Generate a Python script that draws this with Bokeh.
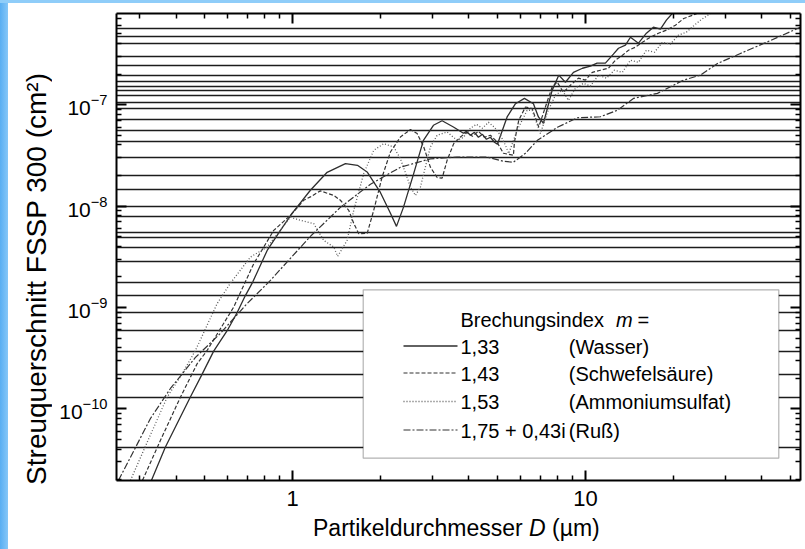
from bokeh.plotting import figure
from bokeh.models import (Range1d, FixedTicker, LogAxis, BoxAnnotation, Label, Arrow,
                          BasicTickFormatter, Div)
from bokeh.layouts import row, column
from bokeh.embed import file_html
from bokeh.resources import INLINE

FONT = "Liberation Sans"

# ---------------- data ----------------
# particle diameter D (µm) and FSSP-300 scattering cross section (cm^2)
d_wasser = [0.329, 0.367, 0.447, 0.490, 0.537, 0.597, 0.646, 0.689, 0.730, 0.818, 0.908,
            0.995, 1.149, 1.311, 1.514, 1.664, 1.800, 1.993, 2.157, 2.262, 2.389, 2.585,
            2.796, 3.025, 3.239, 3.540, 3.830, 3.922, 4.046, 4.176, 4.310, 4.448, 4.590,
            4.737, 4.889, 5.005, 5.401, 5.768, 6.188, 6.643, 6.910, 7.188, 7.695, 8.107,
            8.545, 9.10, 9.77, 10.40, 10.96, 11.70, 12.46, 12.97, 13.70, 14.25, 15.18,
            16.16, 17.07, 18.04, 18.91, 19.83, 21.12]
s_wasser = [1.97e-11, 4.19e-11, 1.31e-10, 2.19e-10, 3.71e-10, 5.90e-10, 8.93e-10, 1.31e-9,
            1.78e-9, 3.65e-9, 5.75e-9, 8.47e-9, 1.43e-8, 2.15e-8, 2.62e-8, 2.52e-8, 2.15e-8,
            1.36e-8, 8.47e-9, 6.30e-9, 9.70e-9, 2.05e-8, 4.44e-8, 6.25e-8, 6.92e-8, 6.01e-8,
            5.21e-8, 5.45e-8, 4.98e-8, 5.33e-8, 4.76e-8, 5.09e-8, 4.55e-8, 4.76e-8, 4.25e-8,
            4.06e-8, 7.55e-8, 1.02e-7, 1.15e-7, 1.02e-7, 7.55e-8, 6.54e-8, 1.38e-7, 1.95e-7,
            1.66e-7, 2.08e-7, 2.28e-7, 2.39e-7, 2.56e-7, 2.56e-7, 3.14e-7, 3.59e-7, 3.85e-7,
            4.61e-7, 4.03e-7, 5.05e-7, 5.79e-7, 5.53e-7, 6.79e-7, 7.95e-7, 9.5e-7]

d_schwefel = [0.3066, 0.353, 0.4134, 0.4715, 0.510, 0.6286, 0.7358, 0.8612, 0.982, 1.090,
              1.149, 1.243, 1.381, 1.455, 1.554, 1.616, 1.681, 1.796, 1.891, 2.020, 2.157,
              2.333, 2.525, 2.661, 2.803, 2.953, 3.114, 3.239, 3.369, 3.548, 3.741, 3.922,
              4.111, 4.310, 4.518, 4.737, 4.966, 5.247, 5.675, 5.720, 5.917, 6.237, 6.575,
              6.925, 7.299, 7.695, 8.005, 8.411, 8.887, 9.465, 10.0, 10.56, 11.25, 11.98,
              12.66, 13.38, 14.03, 14.82, 15.66, 16.68, 17.76, 18.91, 20.30, 21.67, 24.07]
s_schwefel = [1.97e-11, 4.88e-11, 1.305e-10, 2.79e-10, 3.77e-10, 1.01e-9, 2.70e-9, 5.75e-9,
              8.09e-9, 1.14e-8, 1.23e-8, 1.41e-8, 1.27e-8, 1.14e-8, 9.06e-9, 6.75e-9, 5.34e-9,
              5.37e-9, 9.06e-9, 1.93e-8, 3.41e-8, 4.79e-8, 5.67e-8, 5.18e-8, 3.82e-8, 2.42e-8,
              1.91e-8, 1.88e-8, 2.82e-8, 4.12e-8, 4.79e-8, 5.33e-8, 4.87e-8, 5.45e-8, 4.76e-8,
              4.98e-8, 4.35e-8, 3.31e-8, 3.16e-8, 4.25e-8, 7.00e-8, 9.47e-8, 9.13e-8, 6.01e-8,
              9.47e-8, 1.49e-7, 1.67e-7, 1.32e-7, 1.55e-7, 1.82e-7, 1.74e-7, 2.08e-7, 2.18e-7,
              2.28e-7, 2.74e-7, 3.06e-7, 3.43e-7, 3.68e-7, 4.12e-7, 4.61e-7, 5.05e-7, 5.41e-7,
              6.06e-7, 7.05e-7, 7.90e-7]

d_ammon = [0.279, 0.3214, 0.3723, 0.4190, 0.4652, 0.5516, 0.612, 0.717, 0.818, 0.982, 1.062,
           1.180, 1.276, 1.381, 1.424, 1.534, 1.616, 1.748, 1.891, 2.046, 2.214, 2.333, 2.525,
           2.626, 2.731, 2.953, 3.114, 3.369, 3.645, 3.830, 4.046, 4.243, 4.448, 4.662, 4.889,
           5.125, 5.331, 5.470, 5.844, 6.322, 6.575, 7.018, 7.416, 7.898, 8.344, 8.748, 9.244,
           9.844, 10.40, 11.08, 11.80, 12.56, 13.38, 14.25, 15.18, 16.16, 17.21, 18.33, 19.52,
           20.78, 22.13, 23.57, 24.72, 26.74]
s_ammon = [1.97e-11, 5.0e-11, 1.305e-10, 2.22e-10, 3.77e-10, 1.09e-9, 1.73e-9, 3.14e-9, 3.94e-9,
           7.78e-9, 7.22e-9, 6.70e-9, 4.59e-9, 3.94e-9, 3.19e-9, 4.59e-9, 9.06e-9, 2.09e-8,
           3.54e-8, 4.12e-8, 3.82e-8, 2.93e-8, 1.54e-8, 1.27e-8, 1.54e-8, 3.82e-8, 4.98e-8,
           5.37e-8, 4.44e-8, 4.76e-8, 5.84e-8, 6.39e-8, 5.84e-8, 6.69e-8, 5.97e-8, 4.98e-8,
           3.97e-8, 3.29e-8, 5.58e-8, 8.79e-8, 8.79e-8, 5.18e-8, 8.39e-8, 1.24e-7, 1.38e-7,
           1.10e-7, 1.45e-7, 1.62e-7, 1.52e-7, 1.95e-7, 1.82e-7, 2.18e-7, 2.08e-7, 2.74e-7,
           2.61e-7, 3.43e-7, 3.28e-7, 4.12e-7, 3.94e-7, 4.83e-7, 5.17e-7, 6.06e-7, 6.79e-7,
           7.90e-7]

d_russ = [0.2538, 0.2902, 0.3265, 0.3822, 0.4652, 0.5662, 0.6894, 0.8391, 0.982, 1.149, 1.455,
          1.843, 2.333, 2.953, 3.645, 4.615, 5.247, 5.675, 6.237, 6.855, 8.024, 9.390, 11.25,
          12.86, 14.59, 17.62, 21.62, 24.72, 28.25, 33.85, 41.86, 53.0, 56.4]
s_russ = [1.97e-11, 4.16e-11, 8.04e-11, 1.59e-10, 3.22e-10, 5.55e-10, 1.05e-9, 1.85e-9, 3.05e-9,
          5.02e-9, 9.70e-9, 1.64e-8, 2.41e-8, 2.92e-8, 3.04e-8, 3.04e-8, 2.76e-8, 2.70e-8,
          3.31e-8, 4.44e-8, 5.97e-8, 7.41e-8, 7.58e-8, 8.79e-8, 1.15e-7, 1.29e-7, 1.74e-7,
          1.95e-7, 2.54e-7, 3.19e-7, 4.15e-7, 5.62e-7, 6.06e-7]

# horizontal rule levels across the plot area (cm^2)
rule_levels = [5.62e-7, 4.65e-7, 4.0e-7, 2.95e-7, 2.40e-7, 1.95e-7, 1.67e-7, 1.52e-7, 1.38e-7,
               1.22e-7, 1.04e-7, 9.14e-8, 7.11e-8, 5.55e-8, 4.32e-8, 3.0e-8, 2.01e-8, 1.46e-8,
               1.0e-8, 7.91e-9, 5.46e-9, 4.94e-9, 3.88e-9, 2.86e-9, 1.78e-9, 1.31e-9, 8.93e-10,
               5.90e-10, 3.71e-10, 2.19e-10, 1.30e-10, 4.19e-11]

x_major = [1, 10]
x_minor = [0.3, 0.4, 0.5, 0.6, 0.7, 0.8, 0.9, 2, 3, 4, 5, 6, 7, 8, 9, 20, 30, 40, 50]
y_major = [1e-10, 1e-9, 1e-8, 1e-7]
y_minor = [m * 10.0 ** e for e in range(-11, -6) for m in range(2, 10)]

legend_header = "Brechungsindex"
legend_values = ["1,33", "1,43", "1,53", "1,75 + 0,43i"]
legend_names = ["(Wasser)", "(Schwefelsäure)", "(Ammoniumsulfat)", "(Ruß)"]

# ---------------- figure ----------------
p = figure(x_axis_type="log", y_axis_type="log",
           x_range=Range1d(0.25, 54.3), y_range=Range1d(1.97e-11, 7.9e-7),
           frame_width=684, frame_height=467,
           min_border_left=60, min_border_right=5, min_border_top=10, min_border_bottom=35,
           output_backend="svg", toolbar_location=None,
           background_fill_color="white", border_fill_color="white", outline_line_color=None)

p.xgrid.visible = False
p.ygrid.ticker = FixedTicker(ticks=rule_levels)
p.ygrid.grid_line_color = "#1c1c1c"
p.ygrid.grid_line_width = 1.6
p.ygrid.grid_line_alpha = 1.0


def style_axis(ax, major, minor, show_labels):
    ax.ticker = FixedTicker(ticks=major, minor_ticks=minor)
    ax.axis_line_width = 2
    ax.axis_line_color = "black"
    ax.major_tick_in = 10
    ax.major_tick_out = 0
    ax.minor_tick_in = 5
    ax.minor_tick_out = 0
    ax.major_tick_line_width = 2
    ax.minor_tick_line_width = 1.5
    ax.major_tick_line_color = "black"
    ax.minor_tick_line_color = "black"
    if not show_labels:
        ax.major_label_text_font_size = "2px"
        ax.major_label_text_alpha = 0.0
        ax.major_label_standoff = 0


xa = p.xaxis[0]
style_axis(xa, x_major, x_minor, True)
xa.formatter = BasicTickFormatter()
xa.major_label_text_font = FONT
xa.major_label_text_font_size = "22px"
xa.major_label_text_color = "black"
xa.major_label_standoff = 10

ya = p.yaxis[0]
style_axis(ya, y_major, y_minor, True)
ya.major_label_text_font = FONT
ya.major_label_text_font_size = "21px"
ya.major_label_text_color = "black"
ya.major_label_standoff = 9

top = LogAxis()
style_axis(top, x_major, x_minor, False)
p.add_layout(top, "above")
right = LogAxis()
style_axis(right, y_major, y_minor, False)
p.add_layout(right, "right")

# ---------------- curves ----------------
series = [
    (d_wasser, s_wasser, "solid", "#2e2e2e", 1.3),
    (d_schwefel, s_schwefel, "4 2", "#333333", 1.2),
    (d_ammon, s_ammon, "1 2", "#5a5a5a", 1.3),
    (d_russ, s_russ, "7 2 2 2", "#333333", 1.2),
]
for d, s, dash, color, lw in series:
    p.line(d, s, line_dash=dash, line_color=color, line_width=lw)

# ---------------- legend box ----------------
p.add_layout(BoxAnnotation(left=246.7, right=662.3, top=190.7, bottom=22.3,
                           left_units="screen", right_units="screen",
                           top_units="screen", bottom_units="screen",
                           fill_color="white", fill_alpha=1.0,
                           line_color="black", line_width=1.2, level="annotation"))

lab_kw = dict(x_units="screen", y_units="screen", text_font=FONT, text_font_size="20px",
              text_color="black", text_baseline="middle")
p.add_layout(Label(x=344, y=160.5, text=legend_header, **lab_kw))
p.add_layout(Label(x=499.5, y=160.5, text="m", text_font_style="italic", **lab_kw))
p.add_layout(Label(x=521, y=160.5, text="=", **lab_kw))

row_y = [134, 107, 78.5, 50]
for (d, s, dash, color, lw), yy, val, name in zip(series, row_y, legend_values, legend_names):
    p.add_layout(Arrow(end=None, x_start=287, y_start=yy + 0.5, x_end=341, y_end=yy + 0.5,
                       start_units="screen", end_units="screen",
                       line_dash=dash, line_color=color, line_width=lw))
    p.add_layout(Label(x=344, y=yy, text=val, **lab_kw))
    p.add_layout(Label(x=452.3, y=yy, text=name, **lab_kw))

# ---------------- axis titles as HTML (italic D, rotated y title) ----------------
x_title = Div(text='<div style="font-family: \'Liberation Sans\'; font-size: 23px; '
                   'line-height: 26px; padding-left: 257px; white-space: nowrap; color: black;">'
                   'Partikeldurchmesser <i>D</i> (µm)</div>',
              width=749, height=34, margin=0)

y_title = Div(text='<div style="height: 546px; width: 48px; display: flex; '
                   'flex-direction: column; justify-content: flex-end; box-sizing: border-box; '
                   'padding-bottom: 64px;">'
                   '<div style="writing-mode: vertical-rl; transform: rotate(180deg); '
                   'font-family: \'Liberation Sans\'; font-size: 28px; line-height: 28px; '
                   'margin-left: 15px; white-space: nowrap; color: black;">'
                   'Streuquerschnitt FSSP 300 (cm²)</div></div>',
              width=48, height=546, margin=0)

# ---------------- page frame ----------------
top_strip = Div(text="", width=805, height=3, margin=0,
                styles={"background": "#8fcdf9"})
left_strip = Div(text="", width=8, height=546, margin=0,
                 styles={"background": "linear-gradient(to right, #58aef2, #86c7f8)"})
layout = column(top_strip,
                row(left_strip, y_title, column(p, x_title, spacing=0), spacing=0),
                spacing=0)

open("out.html", "w").write(file_html(layout, INLINE))
